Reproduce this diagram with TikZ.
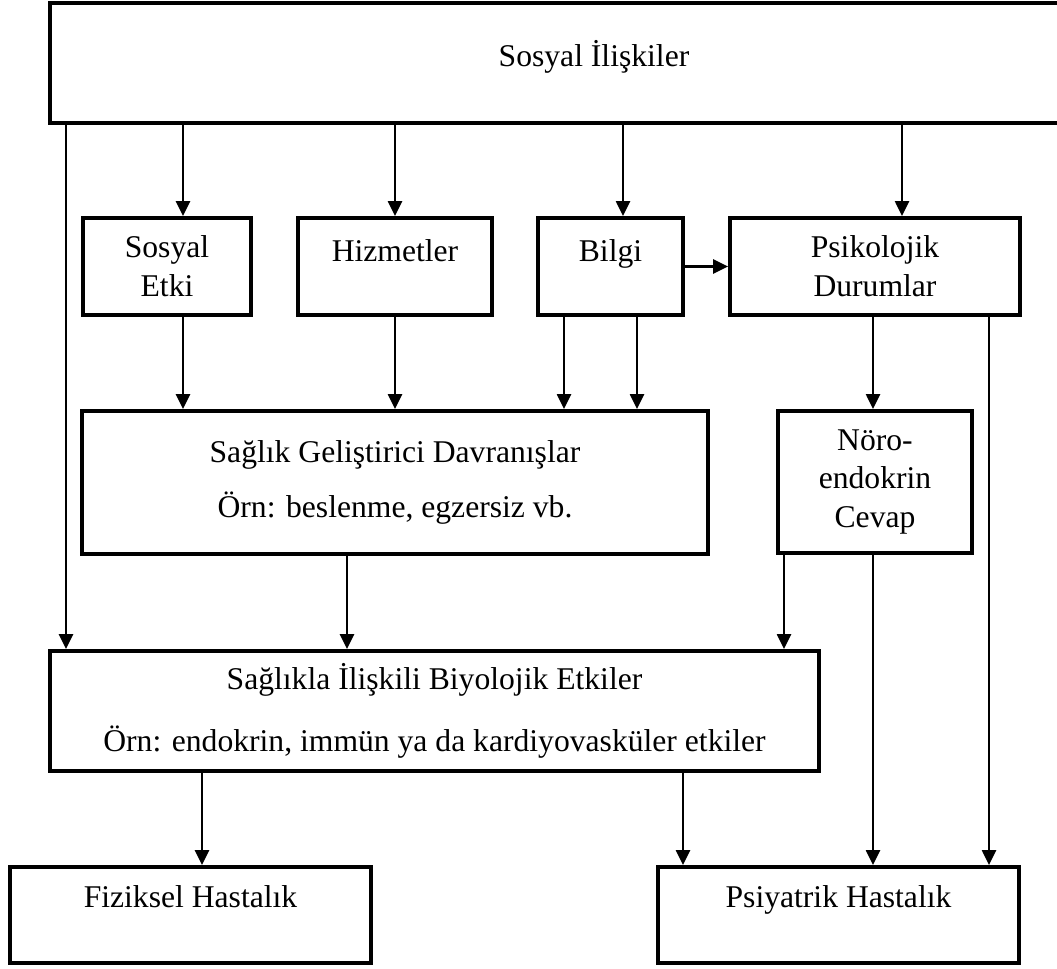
\documentclass[tikz,border=0pt]{standalone}
\usepackage{fontspec}
\setmainfont{Liberation Serif}
\usetikzlibrary{arrows.meta}

\begin{document}
\begin{tikzpicture}[
  box/.style={draw, line width=2.2pt, align=center, inner sep=0pt, font=\fontsize{18}{22}\selectfont},
  onerow/.style={text height=12pt, text depth=#1},
  arr/.style={draw, line width=1.2pt, -{Triangle[width=8pt,length=8.5pt]}}
]
  \useasboundingbox (0,0) rectangle (21.14,19.38);

  % Top box, runs off the right edge
  \node[box, onerow=8pt, minimum width=21.76cm, minimum height=2.4cm] (iliski) at (11.88,18.12) {Sosyal İlişkiler};

  % Second row
  \node[box, minimum width=3.36cm, minimum height=1.94cm] (etki) at (3.34,14.05) {Sosyal\\Etki};
  \node[box, onerow=18pt, minimum width=3.88cm, minimum height=1.94cm] (hizmet) at (7.90,14.05) {Hizmetler};
  \node[box, onerow=18pt, minimum width=2.90cm, minimum height=1.94cm] (bilgi) at (12.21,14.05) {Bilgi};
  \node[box, minimum width=5.80cm, minimum height=1.94cm] (psiko) at (17.50,14.05) {Psikolojik\\Durumlar};

  % Third row
  \node[box, minimum width=12.52cm, minimum height=2.86cm] (davranis) at (7.90,9.73) {Sağlık Geliştirici Davranışlar\\[9.5pt]Örn: beslenme, egzersiz vb.};
  \node[box, minimum width=3.88cm, minimum height=2.84cm] (noro) at (17.50,9.74) {Nöro-\\endokrin\\Cevap};

  % Fourth row
  \node[box, minimum width=15.38cm, minimum height=2.4cm] (biyo) at (8.69,5.16) {Sağlıkla İlişkili Biyolojik Etkiler\\[13pt]Örn: endokrin, immün ya da kardiyovasküler etkiler};

  % Outcomes
  \node[box, onerow=20pt, minimum width=7.22cm, minimum height=1.92cm] (fizik) at (3.81,1.08) {Fiziksel Hastalık};
  \node[box, onerow=20pt, minimum width=7.22cm, minimum height=1.92cm] (psiyatrik) at (16.77,1.08) {Psiyatrik Hastalık};

  % From the top box
  \draw[arr] (1.32,0 |- iliski.south) -- (1.32,0 |- biyo.north);
  \draw[arr] (3.66,0 |- iliski.south) -- (3.66,0 |- etki.north);
  \draw[arr] (iliski.south -| hizmet.north) -- (hizmet.north);
  \draw[arr] (12.46,0 |- iliski.south) -- (12.46,0 |- bilgi.north);
  \draw[arr] (18.04,0 |- iliski.south) -- (18.04,0 |- psiko.north);
  \draw[arr] (bilgi.east) -- (psiko.west);

  % Into the behaviour box
  \draw[arr] (3.66,0 |- etki.south) -- (3.66,0 |- davranis.north);
  \draw[arr] (hizmet.south) -- (hizmet.south |- davranis.north);
  \draw[arr] (11.28,0 |- bilgi.south) -- (11.28,0 |- davranis.north);
  \draw[arr] (12.74,0 |- bilgi.south) -- (12.74,0 |- davranis.north);

  % Psychological states
  \draw[arr] (17.46,0 |- psiko.south) -- (17.46,0 |- noro.north);
  \draw[arr] (19.78,0 |- psiko.south) -- (19.78,0 |- psiyatrik.north);

  % Into the biological box
  \draw[arr] (6.94,0 |- davranis.south) -- (6.94,0 |- biyo.north);
  \draw[arr] (15.68,0 |- noro.south) -- (15.68,0 |- biyo.north);
  \draw[arr] (17.46,0 |- noro.south) -- (17.46,0 |- psiyatrik.north);

  % Outcomes
  \draw[arr] (4.04,0 |- biyo.south) -- (4.04,0 |- fizik.north);
  \draw[arr] (13.66,0 |- biyo.south) -- (13.66,0 |- psiyatrik.north);
\end{tikzpicture}
\end{document}
